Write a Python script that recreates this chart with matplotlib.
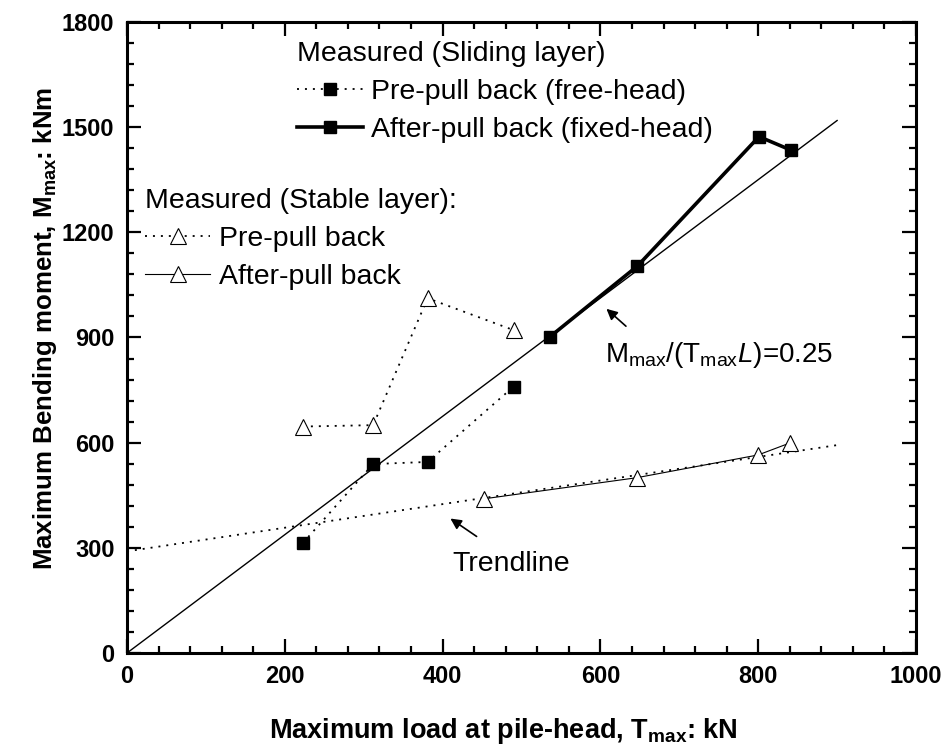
import matplotlib
matplotlib.use('Agg')
import matplotlib.pyplot as plt
from matplotlib.ticker import MultipleLocator

plt.rcParams['font.family'] = 'Liberation Sans'
plt.rcParams['mathtext.fontset'] = 'custom'
plt.rcParams['mathtext.rm'] = 'Liberation Sans'
plt.rcParams['mathtext.it'] = 'Liberation Sans:italic'
plt.rcParams['mathtext.bf'] = 'Liberation Sans:bold'

# sliding layer, squares
slide_pre_T = [223, 312, 381, 490]
slide_pre_M = [314, 539, 545, 760]
slide_post_T = [536, 647, 801, 841]
slide_post_M = [902, 1104, 1473, 1435]

# stable layer, triangles
stable_pre_T = [223, 312, 381, 490]
stable_pre_M = [646, 650, 1012, 921]
stable_post_T = [453, 646, 800, 840]
stable_post_M = [440, 500, 565, 599]

# reference lines
ratio_T = [0, 900]
ratio_M = [0, 1519]
trend_T = [0, 900]
trend_M = [290, 593]

fig, ax = plt.subplots(figsize=(9.52, 7.51), dpi=100)
fig.subplots_adjust(left=0.1334, right=0.9622, bottom=0.1305, top=0.9707)

dots = (0, (1.1, 3.3))
ax.plot(ratio_T, ratio_M, color='black', lw=1.0)
ax.plot(trend_T, trend_M, color='black', lw=1.3, ls=dots)
h1, = ax.plot(slide_pre_T, slide_pre_M, ls=dots, lw=1.3, color='black',
              marker='s', ms=8.5)
h2, = ax.plot(slide_post_T, slide_post_M, ls='-', lw=2.6, color='black',
              marker='s', ms=8.5)
h3, = ax.plot(stable_pre_T, stable_pre_M, ls=dots, lw=1.3, color='black',
              marker='^', ms=11, mfc='white', mew=0.8)
h4, = ax.plot(stable_post_T, stable_post_M, ls='-', lw=0.8, color='black',
              marker='^', ms=11, mfc='white', mew=0.8)

leg_kw = dict(loc='upper left', frameon=False, fontsize=20.5, title_fontsize=20.5,
              alignment='left', borderpad=0, borderaxespad=0, handlelength=2.3,
              handletextpad=0.3, labelspacing=0.42)
leg1 = ax.legend([h1, h2], ['Pre-pull back (free-head)', 'After-pull back (fixed-head)'],
                 title='Measured (Sliding layer)', bbox_to_anchor=(0.2155, 0.970), **leg_kw)
ax.add_artist(leg1)
ax.legend([h3, h4], ['Pre-pull back', 'After-pull back'],
          title='Measured (Stable layer):', bbox_to_anchor=(0.0228, 0.737), **leg_kw)

# annotations
ax.annotate('', xy=(605, 987), xytext=(635, 927),
            arrowprops=dict(arrowstyle='-|>', color='black', lw=1.2, mutation_scale=16))
ax.text(606, 830, r'M$_{\mathrm{max}}$/(T$_{\mathrm{max}}$$\mathit{L}$)=0.25', fontsize=20)
ax.annotate('', xy=(407, 388), xytext=(446, 328),
            arrowprops=dict(arrowstyle='-|>', color='black', lw=1.2, mutation_scale=16))
ax.text(412, 234, 'Trendline', fontsize=20.5)

ax.set_xlim(0, 1000)
ax.set_ylim(0, 1800)
ax.xaxis.set_major_locator(MultipleLocator(200))
ax.xaxis.set_minor_locator(MultipleLocator(40))
ax.yaxis.set_major_locator(MultipleLocator(300))
ax.yaxis.set_minor_locator(MultipleLocator(60))
ax.tick_params(which='both', direction='in', top=True, right=True, width=1.6)
ax.tick_params(which='major', length=10, labelsize=17, pad=9)
ax.tick_params(which='minor', length=5)
for lab in ax.get_xticklabels() + ax.get_yticklabels():
    lab.set_fontweight('bold')
for sp in ax.spines.values():
    sp.set_linewidth(2.2)

ax.set_xlabel(r'Maximum load at pile-head, T$_{\mathbf{max}}$: kN', fontsize=19.5, fontweight='bold')
ax.set_ylabel(r'Maximum Bending moment, M$_{\mathbf{max}}$: kNm', fontsize=18.6, fontweight='bold')
ax.xaxis.set_label_coords(0.477, -0.10)
ax.yaxis.set_label_coords(-0.086, 0.515)

plt.savefig('out.png', dpi=100)
